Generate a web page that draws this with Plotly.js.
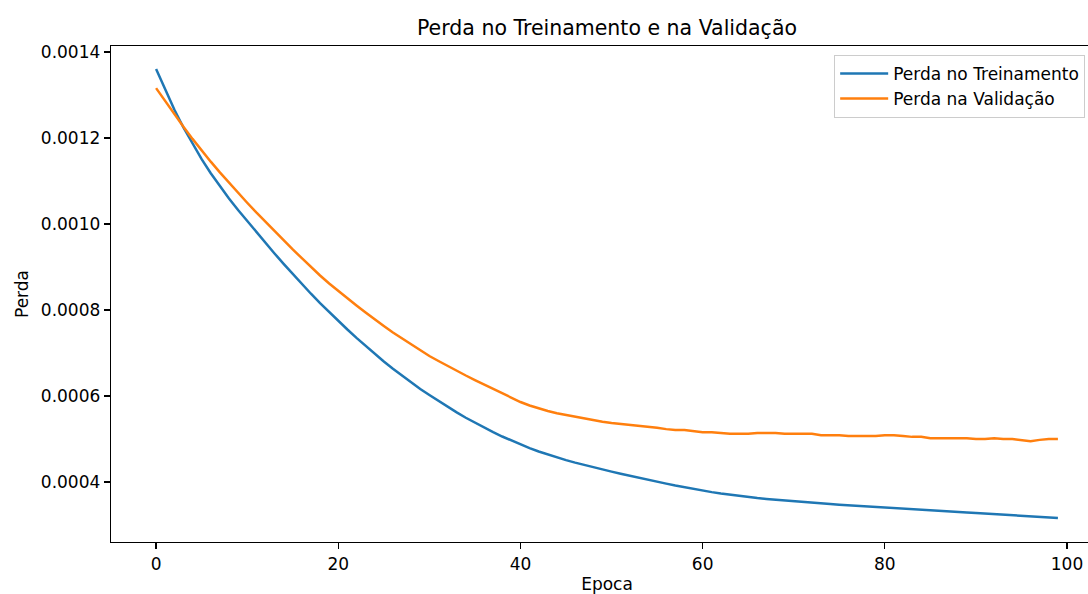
<!DOCTYPE html>
<html>
<head>
<meta charset="utf-8">
<script src="https://cdn.plot.ly/plotly-3.0.1.min.js"></script>
<style>
html, body { margin: 0; padding: 0; overflow: hidden; background: #ffffff; }
#chart { width: 1120px; height: 594px; }
</style>
</head>
<body>
<div id="chart"></div>
<script>
const epochs = Array.from({length: 100}, (_, i) => i);

const trainLoss = [
  0.0013605, 0.0013116, 0.0012663, 0.0012244, 0.0011860, 0.0011507, 0.0011181, 0.0010879, 0.0010595, 0.0010326,
  0.0010070, 0.0009814, 0.0009563, 0.0009316, 0.0009074, 0.0008837, 0.0008605, 0.0008379, 0.0008160, 0.0007949,
  0.0007744, 0.0007547, 0.0007353, 0.0007165, 0.0006981, 0.0006802, 0.0006635, 0.0006472, 0.0006314, 0.0006163,
  0.0006023, 0.0005884, 0.0005749, 0.0005619, 0.0005495, 0.0005377, 0.0005265, 0.0005158, 0.0005058, 0.0004963,
  0.0004872, 0.0004788, 0.0004709, 0.0004637, 0.0004570, 0.0004509, 0.0004451, 0.0004395, 0.0004342, 0.0004291,
  0.0004242, 0.0004193, 0.0004144, 0.0004098, 0.0004051, 0.0004007, 0.0003963, 0.0003919, 0.0003877, 0.0003837,
  0.0003800, 0.0003765, 0.0003733, 0.0003702, 0.0003674, 0.0003649, 0.0003626, 0.0003605, 0.0003586, 0.0003567,
  0.0003549, 0.0003533, 0.0003516, 0.0003502, 0.0003488, 0.0003474, 0.0003460, 0.0003447, 0.0003433, 0.0003419,
  0.0003405, 0.0003391, 0.0003377, 0.0003363, 0.0003349, 0.0003337, 0.0003326, 0.0003314, 0.0003302, 0.0003291,
  0.0003279, 0.0003267, 0.0003256, 0.0003244, 0.0003233, 0.0003221, 0.0003207, 0.0003193, 0.0003179, 0.0003163
];

const valLoss = [
  0.0013160, 0.0012850, 0.0012550, 0.0012260, 0.0011980, 0.0011710, 0.0011450, 0.0011200, 0.0010960, 0.0010725,
  0.0010495, 0.0010270, 0.0010050, 0.0009835, 0.0009620, 0.0009410, 0.0009205, 0.0009000, 0.0008802, 0.0008616,
  0.0008442, 0.0008267, 0.0008105, 0.0007942, 0.0007779, 0.0007628, 0.0007477, 0.0007337, 0.0007198, 0.0007058,
  0.0006930, 0.0006814, 0.0006698, 0.0006581, 0.0006477, 0.0006372, 0.0006267, 0.0006163, 0.0006058, 0.0005953,
  0.0005860, 0.0005779, 0.0005709, 0.0005651, 0.0005600, 0.0005560, 0.0005510, 0.0005470, 0.0005430, 0.0005400,
  0.0005370, 0.0005350, 0.0005330, 0.0005300, 0.0005280, 0.0005260, 0.0005230, 0.0005210, 0.0005210, 0.0005190,
  0.0005160, 0.0005160, 0.0005140, 0.0005120, 0.0005120, 0.0005120, 0.0005140, 0.0005140, 0.0005140, 0.0005120,
  0.0005120, 0.0005120, 0.0005120, 0.0005090, 0.0005090, 0.0005090, 0.0005070, 0.0005070, 0.0005070, 0.0005070,
  0.0005090, 0.0005090, 0.0005070, 0.0005050, 0.0005050, 0.0005020, 0.0005020, 0.0005020, 0.0005020, 0.0005020,
  0.0005000, 0.0005000, 0.0005020, 0.0005000, 0.0005000, 0.0004980, 0.0004950, 0.0004980, 0.0005000, 0.0005000
];

const xTicks = [0, 20, 40, 60, 80, 100];
const yTicks = [0.0004, 0.0006, 0.0008, 0.0010, 0.0012, 0.0014];
const yTickText = ['0.0004', '0.0006', '0.0008', '0.0010', '0.0012', '0.0014'];

const FONT = 'DejaVu Sans, Verdana, sans-serif';

const traces = [
  { x: epochs, y: trainLoss, type: 'scatter', mode: 'lines', name: 'Perda no Treinamento',
    line: { color: '#1f77b4', width: 2.5 } },
  { x: epochs, y: valLoss, type: 'scatter', mode: 'lines', name: 'Perda na Validação',
    line: { color: '#ff7f0e', width: 2.5 } }
];

const axisCommon = {
  showline: true, linecolor: '#000000', linewidth: 1.3, mirror: true,
  ticks: 'outside', ticklen: 6, tickwidth: 1.3, tickcolor: '#000000',
  showgrid: false, zeroline: false, automargin: false,
  tickfont: { family: FONT, size: 17, color: '#000000' }
};

const layout = {
  width: 1120, height: 594,
  paper_bgcolor: '#ffffff', plot_bgcolor: '#ffffff',
  margin: { l: 111, r: 17, t: 46, b: 52 },
  font: { family: FONT, color: '#000000' },
  title: { text: 'Perda no Treinamento e na Validação', font: { family: FONT, size: 20.5, color: '#000000' },
           x: 0.5, xref: 'paper', y: 1 - 28 / 594, yref: 'container', yanchor: 'middle' },
  xaxis: Object.assign({}, axisCommon, {
    range: [-4.95, 103.95], tickvals: xTicks, ticktext: xTicks.map(String),
    title: { text: 'Epoca', font: { family: FONT, size: 17, color: '#000000' }, standoff: 8 }
  }),
  yaxis: Object.assign({}, axisCommon, {
    range: [0.0002605, 0.001414], tickvals: yTicks, ticktext: yTickText,
    title: { text: 'Perda', font: { family: FONT, size: 17, color: '#000000' }, standoff: 8 }
  }),
  legend: {
    x: 0.729, y: 0.982, xanchor: 'left', yanchor: 'top',
    bgcolor: 'rgba(255,255,255,0.8)', bordercolor: '#cccccc', borderwidth: 1,
    itemwidth: 48,
    font: { family: FONT, size: 17, color: '#000000' }
  },
  showlegend: true
};

Plotly.newPlot('chart', traces, layout, { displayModeBar: false, staticPlot: true });
</script>
</body>
</html>
